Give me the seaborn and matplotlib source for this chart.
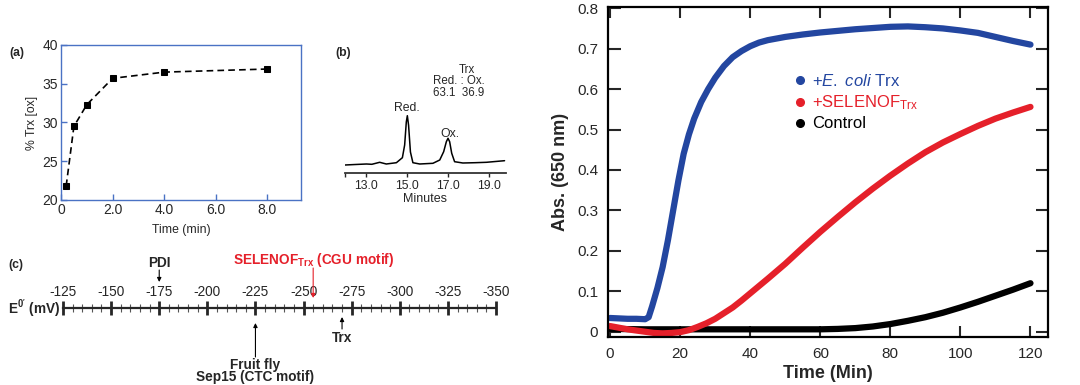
import matplotlib
matplotlib.use("Agg")
import matplotlib.pyplot as plt
from matplotlib.lines import Line2D
import seaborn as sns

# ---- data ----
# (a) oxidation of Trx over time
time_a = [0.2, 0.5, 1.0, 2.0, 4.0, 8.0]
ox_a = [21.8, 29.5, 32.3, 35.7, 36.5, 36.9]

# (b) HPLC trace (minutes, signal)
chrom_min = [12.0, 12.5, 13.04, 13.3, 13.68, 14.0, 14.49, 14.78, 14.89, 14.97, 15.02,
             15.08, 15.17, 15.29, 15.62, 16.26, 16.59, 16.78, 16.91, 16.99, 17.07,
             17.17, 17.31, 17.71, 18.3, 18.85, 19.73]
chrom_sig = [-1.0, -0.5, 0.0, -0.3, 1.7, 0.0, 1.3, 6.3, 19.0, 42.0, 48.3,
             38.7, 12.0, 1.3, 0.0, 0.7, 4.0, 12.3, 22.3, 25.7, 22.3,
             10.7, 2.3, 1.0, 1.3, 1.7, 3.3]

# (c) redox potential scale
mv_major = [-125, -150, -175, -200, -225, -250, -275, -300, -325, -350]
mv_minor = list(range(-125, -351, -5))
pdi_mv = -175
selenof_mv = -255
fly_mv = -225
trx_mv = -270

# (d) turbidity assay
t_blue = [0, 2.5, 5, 7.5, 10, 11, 12, 13.5, 15, 16.5, 18, 19.5, 21, 22.5, 24, 26, 28, 30,
          32.5, 35, 37.5, 40, 42.5, 45, 50, 55, 60, 65, 70, 75, 80, 85, 90, 95, 100,
          105, 110, 115, 120]
abs_blue = [0.034, 0.033, 0.032, 0.032, 0.031, 0.036, 0.063, 0.108, 0.160, 0.226, 0.300,
            0.374, 0.440, 0.488, 0.527, 0.568, 0.600, 0.628, 0.657, 0.679, 0.694, 0.706,
            0.715, 0.721, 0.729, 0.735, 0.740, 0.744, 0.748, 0.751, 0.754, 0.755, 0.753,
            0.750, 0.745, 0.739, 0.729, 0.719, 0.710]
t_red = [0, 2.5, 5, 7.5, 10, 12.5, 15, 17.5, 20, 22.5, 25, 27.5, 30, 32.5, 35, 37.5, 40,
         45, 50, 55, 60, 65, 70, 75, 80, 85, 90, 95, 100, 105, 110, 115, 120]
abs_red = [0.014, 0.010, 0.006, 0.003, 0.000, -0.003, -0.004, -0.003, -0.001, 0.004,
           0.012, 0.021, 0.032, 0.046, 0.060, 0.077, 0.095, 0.131, 0.168, 0.208, 0.247,
           0.284, 0.320, 0.354, 0.386, 0.416, 0.444, 0.468, 0.489, 0.509, 0.527, 0.542,
           0.556]
t_ctrl = [0, 10, 20, 30, 40, 50, 60, 65, 70, 75, 80, 85, 90, 95, 100, 105, 110, 115, 120]
abs_ctrl = [0.007, 0.006, 0.006, 0.006, 0.006, 0.006, 0.006, 0.007, 0.009, 0.013, 0.019,
            0.027, 0.036, 0.047, 0.060, 0.074, 0.089, 0.104, 0.120]
d_xticks = [0, 20, 40, 60, 80, 100, 120]
d_yticks = [0, 0.1, 0.2, 0.3, 0.4, 0.5, 0.6, 0.7, 0.8]
d_ylabels = ["0", "0.1", "0.2", "0.3", "0.4", "0.5", "0.6", "0.7", "0.8"]

# ---- style ----
sns.set_style("white")
plt.rcParams["font.family"] = ["Liberation Sans", "DejaVu Sans"]
plt.rcParams["mathtext.fontset"] = "custom"
plt.rcParams["mathtext.rm"] = "Liberation Sans"
plt.rcParams["mathtext.it"] = "Liberation Sans:italic"
plt.rcParams["mathtext.bf"] = "Liberation Sans:bold"

W, H = 1080, 385
fig = plt.figure(figsize=(W / 100, H / 100), dpi=100)


def box(l, t, r, b):
    return [l / W, 1 - b / H, (r - l) / W, (b - t) / H]


def ftext(x, y, s, **kw):
    fig.text(x / W, 1 - y / H, s, **kw)


BLUE_FRAME = "#4a72c4"
BLUE = "#2346a0"
RED = "#e5202a"

# ---- (a) ----
ax_a = fig.add_axes(box(61, 45, 301, 200))
sns.lineplot(x=time_a, y=ox_a, ax=ax_a, color="black", linestyle="--", linewidth=1.2,
             marker="s", markersize=5, markeredgecolor="black", dashes=False)
ax_a.lines[0].set_dashes([4, 2.5])
ax_a.set_xlim(0, 9.3)
ax_a.set_ylim(20, 40)
ax_a.set_xticks([0, 2, 4, 6, 8])
ax_a.set_xticklabels(["0", "2.0", "4.0", "6.0", "8.0"])
ax_a.set_yticks([20, 25, 30, 35, 40])
for s in ax_a.spines.values():
    s.set_color(BLUE_FRAME)
    s.set_linewidth(1.0)
ax_a.tick_params(direction="in", length=4, width=1, color=BLUE_FRAME, labelsize=10,
                 bottom=True, left=True, pad=2)
ax_a.set_xlabel("Time (min)", fontsize=8.8, labelpad=5)
ax_a.set_ylabel("% Trx [ox]", fontsize=8.8, labelpad=3)
ftext(17, 53, "(a)", fontsize=8.8, fontweight="bold", ha="center", va="center")

# ---- (b) ----
ax_b = fig.add_axes(box(345, 100, 506, 173))
sns.lineplot(x=chrom_min, y=chrom_sig, ax=ax_b, color="black", linewidth=1.1)
ax_b.set_xlim(12, 19.8)
ax_b.set_ylim(-9, 64)
for k in ["left", "right", "top"]:
    ax_b.spines[k].set_visible(False)
ax_b.spines["bottom"].set_linewidth(1.3)
ax_b.spines["bottom"].set_color("#333333")
ax_b.set_yticks([])
ax_b.set_xticks([13, 15, 17, 19])
ax_b.set_xticklabels(["13.0", "15.0", "17.0", "19.0"])
ax_b.set_xticks([12], minor=True)
ax_b.tick_params(axis="x", which="both", direction="out", length=3, width=1,
                 labelsize=8.8, bottom=True, pad=2)
ax_b.set_xlabel("Minutes", fontsize=9, labelpad=1)
ax_b.text(15.0, 56, "Red.", ha="center", va="center", fontsize=8.8)
ax_b.text(17.08, 30, "Ox.", ha="center", va="center", fontsize=8.8)
ftext(343, 53, "(b)", fontsize=8.8, fontweight="bold", ha="center", va="center")
ftext(467, 70, "Trx", fontsize=8.3, ha="center", va="center")
ftext(459, 81.5, "Red. : Ox.", fontsize=8.3, ha="center", va="center")
ftext(459, 93, "63.1  36.9", fontsize=8.3, ha="center", va="center")

# ---- (c) ----
ax_c = fig.add_axes(box(63, 245, 496, 385))
ax_c.set_xlim(-125, -350)
ax_c.set_ylim(-77, 63)
for k in ["left", "right", "bottom"]:
    ax_c.spines[k].set_visible(False)
ax_c.spines["top"].set_position(("data", 0))
ax_c.spines["top"].set_linewidth(1.6)
ax_c.set_facecolor("none")
ax_c.xaxis.set_ticks_position("top")
ax_c.xaxis.set_label_position("top")
ax_c.set_xticks(mv_major)
ax_c.set_xticklabels([str(v) for v in mv_major])
ax_c.set_xticks(mv_minor, minor=True)
ax_c.set_yticks([])
ax_c.tick_params(axis="x", which="major", direction="inout", length=10, width=2,
                 pad=1.5, labelsize=9.8)
ax_c.tick_params(axis="x", which="minor", direction="inout", length=6, width=0.8,
                 color="#555555")
arrow = dict(arrowstyle="-|>", color="black", lw=0.8, mutation_scale=6, shrinkA=0, shrinkB=0)
ax_c.annotate("", xy=(pdi_mv, 26), xytext=(pdi_mv, 38), arrowprops=arrow, annotation_clip=False)
ax_c.text(pdi_mv, 45, "PDI", ha="center", va="center", fontsize=9.8, fontweight="bold")
red_arrow = dict(arrow, color=RED)
ax_c.annotate("", xy=(selenof_mv, 10), xytext=(selenof_mv, 40), arrowprops=red_arrow,
              annotation_clip=False)
ax_c.text(selenof_mv, 48, r"SELENOF$_{\mathbf{Trx}}$ (CGU motif)", ha="center", va="center",
          fontsize=9.8, fontweight="bold", color=RED)
ax_c.annotate("", xy=(fly_mv, -15), xytext=(fly_mv, -49), arrowprops=arrow,
              annotation_clip=False)
ax_c.text(fly_mv, -57, "Fruit fly", ha="center", va="center", fontsize=9.8, fontweight="bold")
ax_c.text(fly_mv, -69, "Sep15 (CTC motif)", ha="center", va="center", fontsize=9.8,
          fontweight="bold")
ax_c.annotate("", xy=(trx_mv, -9), xytext=(trx_mv, -21), arrowprops=arrow,
              annotation_clip=False)
ax_c.text(trx_mv, -30, "Trx", ha="center", va="center", fontsize=9.8, fontweight="bold")
ftext(16, 265, "(c)", fontsize=8.8, fontweight="bold", ha="center", va="center")
ftext(34, 308, r"$\mathbf{E^{0'}}$ (mV)", fontsize=9.8, fontweight="bold", ha="center",
      va="center")

# ---- (d) ----
ax_d = fig.add_axes(box(608, 7, 1048, 337))
sns.lineplot(x=t_ctrl, y=abs_ctrl, ax=ax_d, color="black", linewidth=4.5,
             solid_capstyle="round")
sns.lineplot(x=t_red, y=abs_red, ax=ax_d, color=RED, linewidth=4.5, solid_capstyle="round")
sns.lineplot(x=t_blue, y=abs_blue, ax=ax_d, color=BLUE, linewidth=4.5,
             solid_capstyle="round")
ax_d.set_xlim(-0.6, 125)
ax_d.set_ylim(-0.013, 0.803)
ax_d.set_xticks(d_xticks)
ax_d.set_yticks(d_yticks)
ax_d.set_yticklabels(d_ylabels)
for s in ax_d.spines.values():
    s.set_linewidth(1.6)
    s.set_color("black")
ax_d.tick_params(direction="in", width=1.5, labelsize=11, top=True, right=True,
                 bottom=True, left=True)
ax_d.tick_params(axis="y", length=9, pad=7)
ax_d.tick_params(axis="x", length=8, pad=7)
ax_d.set_xlabel("Time (Min)", fontsize=13, fontweight="bold", labelpad=3)
ax_d.set_ylabel("Abs. (650 nm)", fontsize=13, fontweight="bold", labelpad=6)

handles = [Line2D([], [], marker="o", linestyle="none", color=c, markersize=5.5)
           for c in [BLUE, RED, "black"]]
labels = [r"+$\mathit{E.\ coli}$ Trx", r"+SELENOF$_{\mathrm{Trx}}$", "Control"]
leg = ax_d.legend(handles, labels, loc="upper left", bbox_to_anchor=(786 / W, 1 - 65 / H),
                  bbox_transform=fig.transFigure, frameon=False, fontsize=12,
                  handlelength=0.7, handletextpad=0.35, labelspacing=0.25, borderpad=0)
for txt, c in zip(leg.get_texts(), [BLUE, RED, "black"]):
    txt.set_color(c)

fig.savefig("out.png", dpi=100)
print("saved out.png")
